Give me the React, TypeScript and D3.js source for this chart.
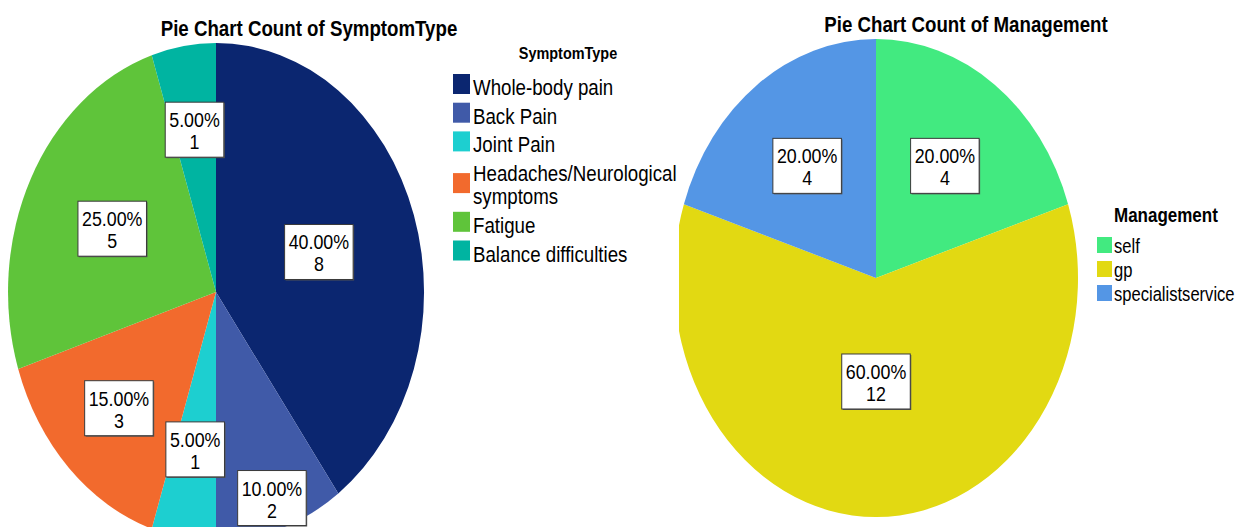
import React from "react";
import * as d3 from "d3";

const symptomCategories = [
  "Whole-body pain",
  "Back Pain",
  "Joint Pain",
  "Headaches/Neurological symptoms",
  "Fatigue",
  "Balance difficulties",
];
const symptomCounts = [8, 2, 1, 3, 5, 1];
const symptomColors = ["#0B2670", "#405AA8", "#1DCFD0", "#F26A2D", "#5FC43A", "#00B4A1"];
const symptomLabelRadius = [0.52, 0.87, 0.64, 0.66, 0.56, 0.66];

const managementCategories = ["self", "gp", "specialistservice"];
const managementCounts = [4, 12, 4];
const managementColors = ["#42EA80", "#E2D912", "#5496E5"];
const managementLabelRadius = [0.58, 0.433, 0.58];

const SX = 0.85;
const FONT = "'Liberation Sans', Arial, sans-serif";

function T({ x, y, size, bold, anchor, children, fill }: any) {
  return (
    <text
      transform={`translate(${x},${y}) scale(${SX},1)`}
      fontSize={size}
      fontWeight={bold ? "bold" : "normal"}
      textAnchor={anchor || "start"}
      fontFamily={FONT}
      fill={fill || "#000"}
    >
      {children}
    </text>
  );
}

function charW(s: string) {
  let w = 0;
  for (const c of s) {
    if (c >= "0" && c <= "9") w += 0.556;
    else if (c === ".") w += 0.278;
    else if (c === "%") w += 0.889;
    else w += 0.556;
  }
  return w;
}

function Pie({ counts, colors, labelRadius, cx, cy, rx, ry, clipId, clipX }: any) {
  const total = d3.sum(counts as number[]);
  const pie = d3.pie<number>().sort(null).value((d) => d);
  const arcs = pie(counts);
  const arcGen = d3.arc<d3.PieArcDatum<number>>().innerRadius(0).outerRadius(1);
  const fs = 21;
  return (
    <g>
      {clipId && (
        <clipPath id={clipId}>
          <rect x={clipX} y={0} width={2000} height={600} />
        </clipPath>
      )}
      <g clipPath={clipId ? `url(#${clipId})` : undefined}>
        <g transform={`translate(${cx},${cy}) scale(${rx},${ry})`}>
          {arcs.map((a, i) => (
            <path key={i} d={arcGen(a) || ""} fill={colors[i]} />
          ))}
        </g>
      </g>
      {arcs.map((a, i) => {
        const mid = (a.startAngle + a.endAngle) / 2;
        const f = labelRadius[i];
        const lx = cx + Math.sin(mid) * rx * f;
        const ly = cy - Math.cos(mid) * ry * f;
        const pct = d3.format(".2f")((a.value / total) * 100) + "%";
        const tw = Math.max(charW(pct), charW(String(a.value))) * fs * SX;
        const w = tw + 8;
        const h = 55;
        const x0 = lx - w / 2;
        const y0 = ly - h / 2;
        return (
          <g key={"l" + i}>
            <rect x={x0 + 1} y={y0 + 1} width={w} height={h} fill="#555" />
            <rect x={x0} y={y0} width={w} height={h} fill="#fff" stroke="#3a3a3a" strokeWidth={1} />
            <T x={lx} y={y0 + 25} size={fs} anchor="middle">{pct}</T>
            <T x={lx} y={y0 + 47} size={fs} anchor="middle">{String(a.value)}</T>
          </g>
        );
      })}
    </g>
  );
}

function wrapLabel(s: string) {
  if (s.length > 20 && s.indexOf(" ") > 0) {
    const k = s.indexOf(" ");
    return [s.slice(0, k), s.slice(k + 1)];
  }
  return [s];
}

export default function App() {
  let baseline = 95;
  const leftItems = symptomCategories.map((c, i) => {
    const lines = wrapLabel(c);
    const item = { c, i, lines, baseline };
    baseline += 28.7 + (lines.length - 1) * 23;
    return item;
  });
  return (
    <svg
      width={1243}
      height={527}
      style={{ position: "absolute", left: 0, top: 0, background: "#fff" }}
    >
      <rect x={0} y={0} width={1243} height={527} fill="#fff" />
      <T x={309} y={36} size={22} bold anchor="middle">Pie Chart Count of SymptomType</T>
      <Pie
        counts={symptomCounts}
        colors={symptomColors}
        labelRadius={symptomLabelRadius}
        cx={216}
        cy={292}
        rx={208}
        ry={249}
      />
      <T x={568} y={59} size={17} bold anchor="middle">SymptomType</T>
      {leftItems.map((it) => {
        const twoLine = it.lines.length > 1;
        const swTop = twoLine ? it.baseline - 8 : it.baseline - 21;
        return (
          <g key={it.c}>
            <rect x={453} y={swTop} width={17} height={20} fill={symptomColors[it.i]} />
            {it.lines.map((ln, j) => (
              <T key={j} x={473} y={it.baseline + j * 23} size={22}>
                {ln}
              </T>
            ))}
          </g>
        );
      })}

      <T x={966} y={32} size={22} bold anchor="middle">Pie Chart Count of Management</T>
      <Pie
        counts={managementCounts}
        colors={managementColors}
        labelRadius={managementLabelRadius}
        cx={876}
        cy={278}
        rx={202}
        ry={239}
        clipId="rightClip"
        clipX={679}
      />
      <T x={1114} y={222} size={20} bold>Management</T>
      {managementCategories.map((c, i) => (
        <g key={c}>
          <rect x={1097} y={237 + i * 24} width={15} height={16} fill={managementColors[i]} />
          <T x={1114} y={253 + i * 24} size={19.5}>{c}</T>
        </g>
      ))}
    </svg>
  );
}
